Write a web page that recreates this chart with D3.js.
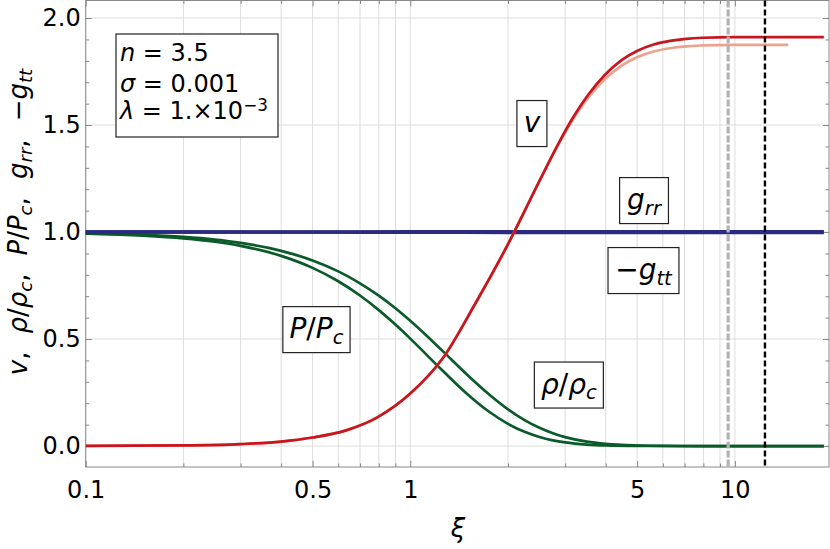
<!DOCTYPE html>
<html>
<head>
<meta charset="utf-8">
<script src="https://cdn.jsdelivr.net/npm/d3@7"></script>
<style>
  body { margin: 0; background: #fff; }
  svg text { font-family: "DejaVu Sans", "Liberation Sans", Arial, sans-serif; fill: #000; }
</style>
</head>
<body>
<svg id="chart" width="830" height="549"></svg>
<script>
//============= DATA =============//
const xiDomain = [0.1, 19.5];
const valDomain = [-0.098, 2.082];

const xTickVals = [0.1, 0.5, 1, 5, 10];
const xTickText = ["0.1", "0.5", "1", "5", "10"];
const yTickVals = [0, 0.5, 1, 1.5, 2];
const yTickText = ["0.0", "0.5", "1.0", "1.5", "2.0"];

// density and pressure profiles
const rhoXi = [0.1, 0.15, 0.2, 0.25, 0.3, 0.4, 0.5, 0.6, 0.7, 0.8, 0.9, 1.0, 1.25, 1.5, 1.75, 2.0,
               2.25, 2.5, 2.75, 3.0, 3.5, 4.0, 5.0, 6.0, 7.0, 8.0, 9.536, 18.8];
const rhoVals = [0.9942, 0.9870, 0.9770, 0.9644, 0.9492, 0.9121, 0.8671, 0.8160, 0.7605, 0.7026, 0.6436,
                 0.5851, 0.4482, 0.3319, 0.2406, 0.1714, 0.1211, 0.0850, 0.0595, 0.0417, 0.0204, 0.0100,
                 0.0025, 0.0004, 0.0001, 0, 0, 0];
const presVals = [0.9926, 0.9833, 0.9706, 0.9545, 0.9352, 0.8885, 0.8325, 0.7699, 0.7033, 0.6352, 0.5675,
                  0.5020, 0.3563, 0.2422, 0.1601, 0.1036, 0.0663, 0.0420, 0.0266, 0.0168, 0.0067, 0.0027,
                  0.0005, 0.0001, 0, 0, 0, 0];

// v, and the lighter reference curve under it
const vXi = [0.1, 0.2, 0.3, 0.4, 0.5, 0.631, 0.794, 1.0, 1.259, 1.585, 1.995, 2.512, 2.818, 3.162,
             3.548, 3.981, 4.467, 5.012, 5.623, 6.31, 7.079, 7.943, 10, 18.8];
const vVals = [0.0003, 0.0027, 0.009, 0.021, 0.040, 0.072, 0.135, 0.245, 0.41, 0.665, 0.94, 1.245, 1.395,
               1.532, 1.645, 1.735, 1.802, 1.847, 1.876, 1.893, 1.903, 1.908, 1.911, 1.911];
const vAltXi = [0.1, 0.2, 0.3, 0.4, 0.5, 0.631, 0.794, 1.0, 1.259, 1.585, 1.995, 2.512, 2.818, 3.162,
                3.548, 3.981, 4.467, 5.012, 5.623, 6.31, 7.079, 7.943, 10, 14.6];
const vAltVals = [0.0003, 0.0027, 0.009, 0.021, 0.040, 0.072, 0.135, 0.245, 0.41, 0.665, 0.94, 1.245, 1.392,
                  1.524, 1.631, 1.715, 1.777, 1.818, 1.844, 1.859, 1.868, 1.872, 1.875, 1.875];

// metric components
const gXi = [0.1, 0.5, 1, 2, 3, 5, 10, 18.8];
const grrVals = [1.0, 1.0005, 1.001, 1.002, 1.002, 1.002, 1.002, 1.002];
const gttVals = [1.0, 0.9995, 0.999, 0.998, 0.998, 0.998, 0.998, 0.998];

const surfaceXi = 9.536;
const outerXi = 12.38;

// parts: [text, kind]  kind: i = italic, s = subscript, ^ = superscript
const curveLabels = [
  { parts: [["v", "i"]], xi: 2.37, val: 1.507 },
  { parts: [["g", "i"], ["rr", "is"]], xi: 5.25, val: 1.147 },
  { parts: [["\u2212", ""], ["g", "i"], ["tt", "is"]], xi: 5.23, val: 0.820 },
  { parts: [["P", "i"], ["/", ""], ["P", "i"], ["c", "is"]], xi: 0.514, val: 0.544 },
  { parts: [["\u03c1", "i"], ["/", ""], ["\u03c1", "i"], ["c", "is"]], xi: 3.08, val: 0.285 }
];
const paramLines = [
  [["n", "i"], [" = 3.5", ""]],
  [["\u03c3", "i"], [" = 0.001", ""]],
  [["\u03bb", "i"], [" = 1.\u00d710", ""], ["\u22123", "^"]]
];
const yTitle = [["v", "i"], [",", ""], ["\u03c1", "i", 18], ["/", ""], ["\u03c1", "i"], ["c", "is"], [",", ""],
                ["P", "i", 18], ["/", ""], ["P", "i"], ["c", "is"], [",", ""],
                ["g", "i", 18], ["rr", "is"], [",", ""], ["\u2212", "", 18], ["g", "i"], ["tt", "is"]];

//============= SETUP =============//
const svg = d3.select("#chart");
const plotL = 85.7, plotR = 829, plotT = 0.5, plotB = 467;

const x = d3.scaleLog().domain(xiDomain).range([plotL, plotR]);
const y = d3.scaleLinear().domain(valDomain).range([plotB, plotT]);

function richText(t, parts, size) {
  let shift = 0;
  parts.forEach(p => {
    const kind = p[1];
    const ts = t.append("tspan").text(p[0]);
    let target = 0;
    if (kind.includes("s")) target = 0.2 * size;
    if (kind.includes("^")) target = -0.3 * size;
    ts.attr("dy", target - shift);
    shift = target;
    if (kind.includes("i")) ts.style("font-style", "italic");
    if (kind.includes("s") || kind.includes("^")) ts.style("font-size", (0.7 * size) + "px");
    if (p[2]) ts.attr("dx", p[2]);
  });
}

//============= GRID =============//
const grid = svg.append("g");
grid.selectAll(".gx").data(x.ticks()).join("line")
  .attr("x1", d => x(d)).attr("x2", d => x(d))
  .attr("y1", plotT).attr("y2", plotB)
  .attr("stroke", "#dddddd").attr("stroke-width", 1);
grid.selectAll(".gy").data(yTickVals).join("line")
  .attr("x1", plotL).attr("x2", plotR)
  .attr("y1", d => y(d)).attr("y2", d => y(d))
  .attr("stroke", "#dddddd").attr("stroke-width", 1);

//============= AXES =============//
const minorY = d3.range(0, 2.05, 0.1).filter(v => !yTickVals.some(t => Math.abs(t - v) < 1e-6));
const minorX = x.ticks().filter(v => !xTickVals.some(t => Math.abs(t - v) < 1e-9));

function styleAxis(g) {
  g.select(".domain").remove();
  g.selectAll("line").attr("stroke", "#888");
  g.selectAll("text").attr("font-size", 24).attr("font-family", "DejaVu Sans").attr("fill", "#000");
}

svg.append("g").attr("transform", `translate(${plotL},0)`)
  .call(d3.axisLeft(y).tickValues(yTickVals).tickFormat((d, i) => yTickText[i]).tickSize(-6).tickPadding(5))
  .call(styleAxis);
svg.append("g").attr("transform", `translate(${plotL},0)`)
  .call(d3.axisLeft(y).tickValues(minorY).tickFormat("").tickSize(-3.5)).call(styleAxis);
svg.append("g").attr("transform", `translate(${plotR},0)`)
  .call(d3.axisRight(y).tickValues(yTickVals).tickFormat("").tickSize(-6)).call(styleAxis);
svg.append("g").attr("transform", `translate(${plotR},0)`)
  .call(d3.axisRight(y).tickValues(minorY).tickFormat("").tickSize(-3.5)).call(styleAxis);

svg.append("g").attr("transform", `translate(0,${plotB})`)
  .call(d3.axisBottom(x).tickValues(xTickVals).tickFormat((d, i) => xTickText[i]).tickSize(-6).tickPadding(14))
  .call(styleAxis);
svg.append("g").attr("transform", `translate(0,${plotB})`)
  .call(d3.axisBottom(x).tickValues(minorX).tickFormat("").tickSize(-3.5)).call(styleAxis);
svg.append("g").attr("transform", `translate(0,${plotT})`)
  .call(d3.axisTop(x).tickValues(xTickVals).tickFormat("").tickSize(-6)).call(styleAxis);
svg.append("g").attr("transform", `translate(0,${plotT})`)
  .call(d3.axisTop(x).tickValues(minorX).tickFormat("").tickSize(-3.5)).call(styleAxis);

svg.append("rect")
  .attr("x", plotL).attr("y", plotT).attr("width", plotR - plotL).attr("height", plotB - plotT)
  .attr("fill", "none").attr("stroke", "#888").attr("stroke-width", 1);

//============= CURVES =============//
const line = d3.line().x(d => x(d[0])).y(d => y(d[1])).curve(d3.curveMonotoneX);
const zipped = (xs, ys) => xs.map((v, i) => [v, ys[i]]);

const curves = [
  { pts: zipped(rhoXi, rhoVals), color: "#0b5a2a", w: 2.7 },
  { pts: zipped(rhoXi, presVals), color: "#0b5a2a", w: 2.7 },
  { pts: zipped(gXi, gttVals), color: "#2a2a82", w: 3.4 },
  { pts: zipped(gXi, grrVals), color: "#2a2a82", w: 3.4 },
  { pts: zipped(vAltXi, vAltVals), color: "#eba38f", w: 2.7 },
  { pts: zipped(vXi, vVals), color: "#c8161e", w: 2.7 }
];
svg.append("g").selectAll("path").data(curves).join("path")
  .attr("d", d => line(d.pts))
  .attr("fill", "none")
  .attr("stroke", d => d.color)
  .attr("stroke-width", d => d.w)
  .attr("stroke-linecap", "butt");

// vertical markers
svg.append("line")
  .attr("x1", x(surfaceXi)).attr("x2", x(surfaceXi)).attr("y1", plotT).attr("y2", plotB)
  .attr("stroke", "#b2b2b4").attr("stroke-width", 3.2).attr("stroke-dasharray", "7,2");
svg.append("line")
  .attr("x1", x(outerXi)).attr("x2", x(outerXi)).attr("y1", plotT).attr("y2", plotB)
  .attr("stroke", "#000").attr("stroke-width", 2.4).attr("stroke-dasharray", "6,3");

//============= LABELS =============//
curveLabels.forEach(lab => {
  const cx = x(lab.xi), cy = y(lab.val);
  const g = svg.append("g");
  const rect = g.append("rect");
  const t = g.append("text").attr("x", cx).attr("y", cy + 8.5)
    .attr("text-anchor", "middle").attr("font-size", 28);
  richText(t, lab.parts, 28);
  const bb = t.node().getBBox();
  const w = bb.width + 13;
  rect.attr("x", cx - w / 2).attr("y", cy - 23).attr("width", w).attr("height", 46)
    .attr("fill", "#fff").attr("stroke", "#222").attr("stroke-width", 1.2);
});

// parameter box
svg.append("rect")
  .attr("x", 116).attr("y", 34).attr("width", 162).attr("height", 103)
  .attr("fill", "#fff").attr("stroke", "#222").attr("stroke-width", 1.2);
const paramBase = [60.5, 91.5, 118.5];
paramLines.forEach((parts, i) => {
  const t = svg.append("text").attr("x", 120).attr("y", paramBase[i]).attr("font-size", 24);
  richText(t, parts, 24);
});

// axis titles
const yt = svg.append("text")
  .attr("transform", "translate(27,222) rotate(-90)")
  .attr("text-anchor", "middle").attr("font-size", 26);
richText(yt, yTitle, 26);

svg.append("text").attr("x", 458).attr("y", 537)
  .attr("text-anchor", "middle").attr("font-size", 26).style("font-style", "italic")
  .text("\u03be");
</script>
</body>
</html>
